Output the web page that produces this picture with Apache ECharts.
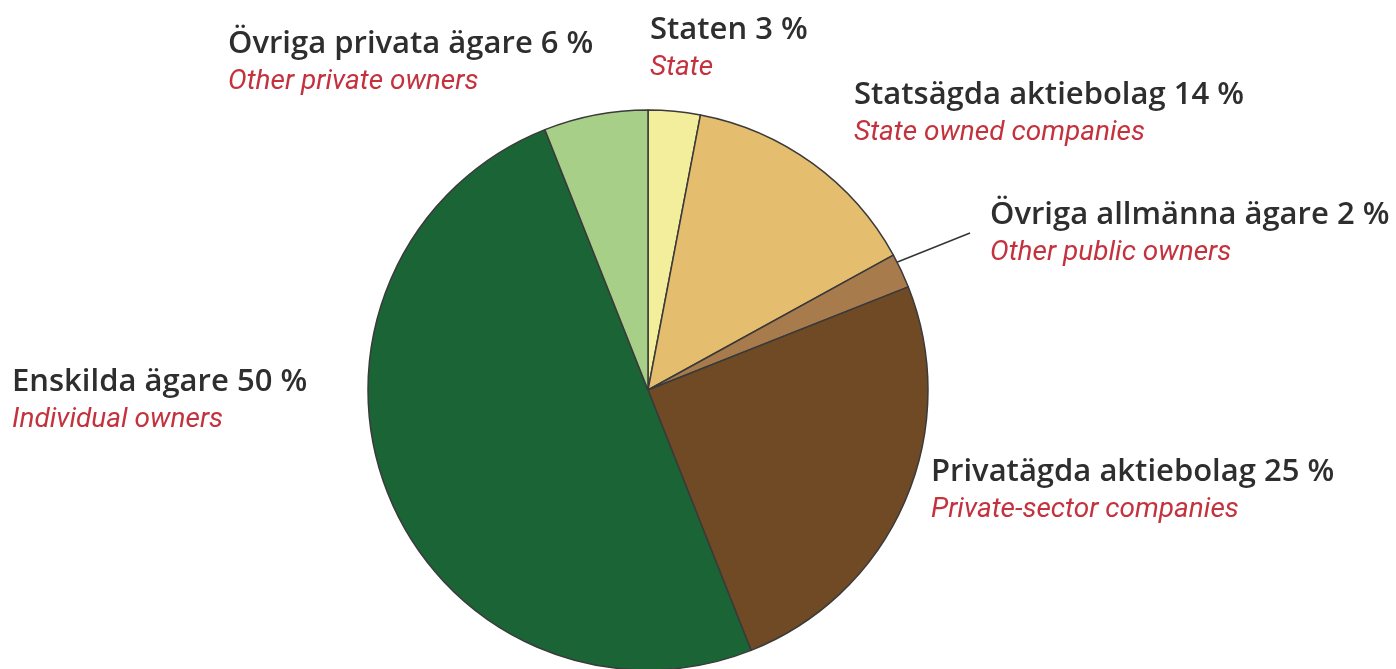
<!DOCTYPE html>
<html>
<head>
<meta charset="utf-8">
<script src="https://cdn.jsdelivr.net/npm/echarts@6/dist/echarts.min.js"></script>
<style>html,body{margin:0;padding:0;background:#fff;}#c{width:1396px;height:669px;}</style>
</head>
<body>
<div id="c"></div>
<script>
const namesSv = ['Staten', 'Statsägda aktiebolag', 'Övriga allmänna ägare', 'Privatägda aktiebolag', 'Enskilda ägare', 'Övriga privata ägare'];
const namesEn = ['State', 'State owned companies', 'Other public owners', 'Private-sector companies', 'Individual owners', 'Other private owners'];
const values = [3, 14, 2, 25, 50, 6];
const colors = ['#f3ee9b', '#e4bd6f', '#a87b4c', '#6f4a25', '#1b6436', '#a8cf88'];

// label block top-left positions (layout, not data)
const labelPos = [[650, 12], [854, 77], [990, 197], [931, 454], [12, 364], [228, 26]];

const chart = echarts.init(document.getElementById('c'));
chart.setOption({
  animation: false,
  series: [{
    type: 'pie',
    center: [648, 390],
    radius: 280,
    startAngle: 90,
    clockwise: true,
    avoidLabelOverlap: false,
    data: values.map((v, i) => ({
      value: v,
      name: namesSv[i],
      itemStyle: { color: colors[i] },
      labelLine: { show: i === 2 }
    })),
    itemStyle: { borderColor: '#3a3a3a', borderWidth: 1.5 },
    label: {
      show: true,
      position: 'outside',
      formatter: p => '{a|' + namesSv[p.dataIndex] + ' ' + values[p.dataIndex] + ' %}\n{b|' + namesEn[p.dataIndex] + '}',
      rich: {
        a: { fontFamily: 'Open Sans', fontWeight: 600, fontSize: 31, color: '#2e2e2e', lineHeight: 37 },
        b: { fontFamily: 'Roboto', fontStyle: 'italic', fontSize: 28, color: '#c4323e', lineHeight: 37 }
      }
    },
    labelLine: { lineStyle: { color: '#333', width: 1.5 } },
    labelLayout: function (params) {
      const i = params.dataIndex;
      const out = { x: labelPos[i][0], y: labelPos[i][1], align: 'left', verticalAlign: 'top' };
      if (i === 2) {
        out.labelLinePoints = [[895, 263], [930, 249], [970, 233]];
      }
      return out;
    }
  }]
});
</script>
</body>
</html>
